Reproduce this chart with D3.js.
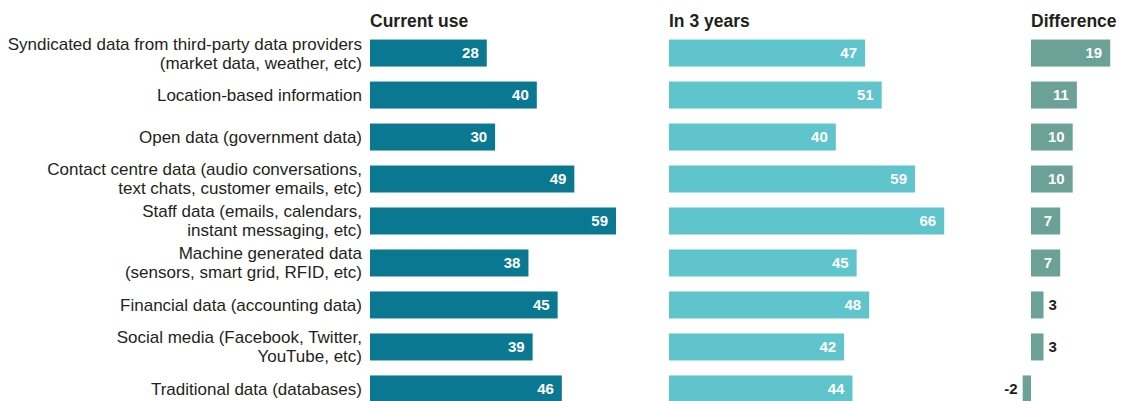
<!DOCTYPE html>
<html>
<head>
<meta charset="utf-8">
<script src="https://cdn.jsdelivr.net/npm/d3@7/dist/d3.min.js"></script>
<style>
  html, body { margin: 0; padding: 0; background: #fff; }
  svg { display: block; }
  text { font-family: "Liberation Sans", "DejaVu Sans", sans-serif; }
</style>
</head>
<body>
<svg id="chart" width="1133" height="401"></svg>
<script>
// Data sources, one row each
const categories = [
  ["Syndicated data from third-party data providers", "(market data, weather, etc)"],
  ["Location-based information"],
  ["Open data (government data)"],
  ["Contact centre data (audio conversations,", "text chats, customer emails, etc)"],
  ["Staff data (emails, calendars,", "instant messaging, etc)"],
  ["Machine generated data", "(sensors, smart grid, RFID, etc)"],
  ["Financial data (accounting data)"],
  ["Social media (Facebook, Twitter,", "YouTube, etc)"],
  ["Traditional data (databases)"]
];
const currentUse = [28, 40, 30, 49, 59, 38, 45, 39, 46];
const inThreeYears = [47, 51, 40, 59, 66, 45, 48, 42, 44];
const difference = [19, 11, 10, 10, 7, 7, 3, 3, -2];
const columnTitles = ["Current use", "In 3 years", "Difference"];

const svg = d3.select("#chart");
const textColor = "#231f20";

// Row bands
const y = d3.scaleBand()
  .domain(d3.range(categories.length))
  .range([32, 410])
  .paddingInner(0.357)
  .paddingOuter(0.18);

// Shared unit scale (px per percentage point)
const unit = d3.scaleLinear().domain([0, 10]).range([0, 41.7]);

const columns = [
  { title: columnTitles[0], values: currentUse, x0: 370, color: "#0b7891" },
  { title: columnTitles[1], values: inThreeYears, x0: 669, color: "#5fc4cb" },
  { title: columnTitles[2], values: difference, x0: 1031, color: "#6ba197" }
];

// Category labels
const labelG = svg.append("g");
categories.forEach((lines, i) => {
  const cy = y(i) + y.bandwidth() / 2;
  const lh = 19;
  const t = labelG.append("text")
    .attr("x", 362)
    .attr("text-anchor", "end")
    .attr("fill", textColor)
    .style("font-size", "17px");
  lines.forEach((ln, j) => {
    t.append("tspan")
      .attr("x", 362)
      .attr("y", cy + (j - (lines.length - 1) / 2) * lh)
      .attr("dy", "0.35em")
      .text(ln);
  });
});

columns.forEach(col => {
  const g = svg.append("g");
  const x = d3.scaleLinear()
    .domain([0, 10])
    .range([col.x0, col.x0 + unit(10)]);

  g.append("text")
    .attr("x", col.x0)
    .attr("y", 27)
    .attr("fill", textColor)
    .style("font-size", "17.5px")
    .style("font-weight", "bold")
    .text(col.title);

  g.selectAll("rect")
    .data(col.values)
    .join("rect")
    .attr("x", d => Math.min(x(0), x(d)))
    .attr("y", (d, i) => y(i))
    .attr("width", d => Math.abs(x(d) - x(0)))
    .attr("height", y.bandwidth())
    .attr("fill", col.color);

  g.selectAll("text.val")
    .data(col.values)
    .join("text")
    .attr("class", "val")
    .attr("y", (d, i) => y(i) + y.bandwidth() / 2)
    .attr("dy", "0.36em")
    .style("font-size", "15px")
    .style("font-weight", "bold")
    .each(function (d) {
      const w = Math.abs(x(d) - x(0));
      const s = d3.select(this);
      if (d < 0) {
        s.attr("x", x(d) - 5).attr("text-anchor", "end").attr("fill", textColor);
      } else if (w > 25) {
        s.attr("x", x(d) - 8).attr("text-anchor", "end").attr("fill", "#fff");
      } else {
        s.attr("x", x(d) + 5).attr("text-anchor", "start").attr("fill", textColor);
      }
    })
    .text(d => d);
});
</script>
</body>
</html>
